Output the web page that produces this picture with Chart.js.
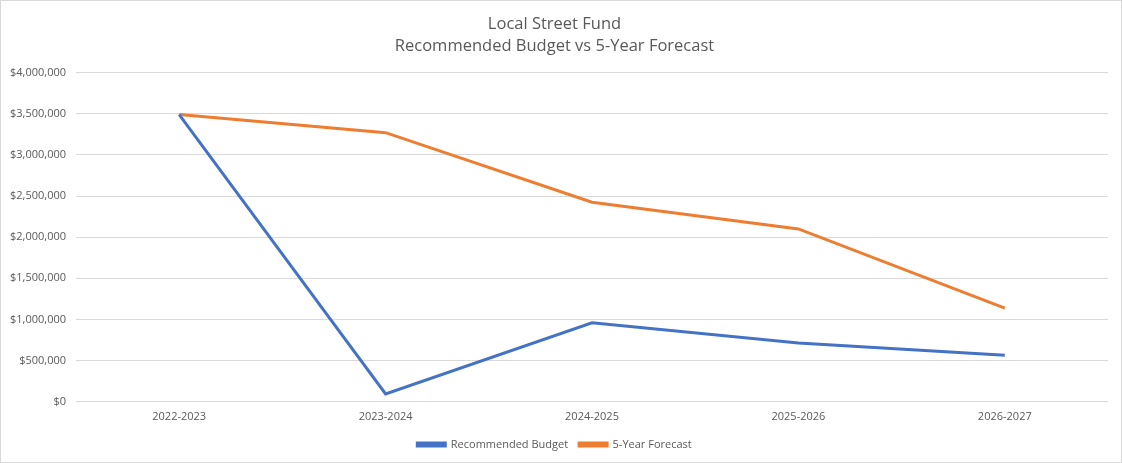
<!DOCTYPE html>
<html>
<head>
<meta charset="utf-8">
<script src="https://cdn.jsdelivr.net/npm/chart.js@4"></script>
<style>
  html, body { margin: 0; padding: 0; background: #fff; }
  #wrap { width: 1120px; height: 461px; border: 1px solid #d9d9d9; }
</style>
</head>
<body>
<div id="wrap"><canvas id="fundChart" width="1120" height="461"></canvas></div>
<script>
const years = ['2022-2023', '2023-2024', '2024-2025', '2025-2026', '2026-2027'];
const recommendedBudget = [3490000, 95000, 960000, 715000, 567000];
const fiveYearForecast = [3490000, 3270000, 2425000, 2100000, 1138000];
const titleLines = ['Local Street Fund', 'Recommended Budget vs 5-Year Forecast'];

const textColor = '#595959';
const ctx = document.getElementById('fundChart').getContext('2d');
new Chart(ctx, {
    type: 'line',
    data: {
        labels: years,
        datasets: [
            {
                label: 'Recommended Budget',
                data: recommendedBudget,
                borderColor: '#4472C4',
                backgroundColor: '#4472C4',
                borderWidth: 3,
                pointRadius: 0,
                tension: 0
            },
            {
                label: '5-Year Forecast',
                data: fiveYearForecast,
                borderColor: '#ED7D31',
                backgroundColor: '#ED7D31',
                borderWidth: 3,
                pointRadius: 0,
                tension: 0
            }
        ]
    },
    options: {
        responsive: false,
        animation: false,
        layout: { padding: { left: 0, right: 13, top: 12, bottom: 2 } },
        scales: {
            x: {
                offset: true,
                grid: { display: false },
                border: { display: false },
                ticks: { color: textColor, font: { family: 'Open Sans', size: 11 }, padding: 0 },
                afterFit: function (scale) { scale.height += 5; }
            },
            y: {
                min: 0,
                max: 4000000,
                ticks: {
                    stepSize: 500000,
                    color: textColor,
                    padding: 10,
                    font: { family: 'Open Sans', size: 11 },
                    callback: function (v) { return '$' + v.toLocaleString('en-US'); }
                },
                grid: { color: '#d9d9d9', drawTicks: false },
                border: { display: false },
                afterFit: function (scale) { scale.width = 75; }
            }
        },
        plugins: {
            title: {
                display: true,
                text: titleLines,
                color: textColor,
                font: { family: 'Open Sans', size: 16.5, weight: 'normal', lineHeight: 1.35 },
                padding: { top: 0, bottom: 15 }
            },
            legend: {
                position: 'bottom',
                labels: {
                    color: textColor,
                    font: { family: 'Open Sans', size: 11 },
                    boxWidth: 28,
                    boxHeight: 3,
                    padding: 11
                }
            },
            tooltip: { enabled: false }
        }
    }
});
</script>
</body>
</html>
